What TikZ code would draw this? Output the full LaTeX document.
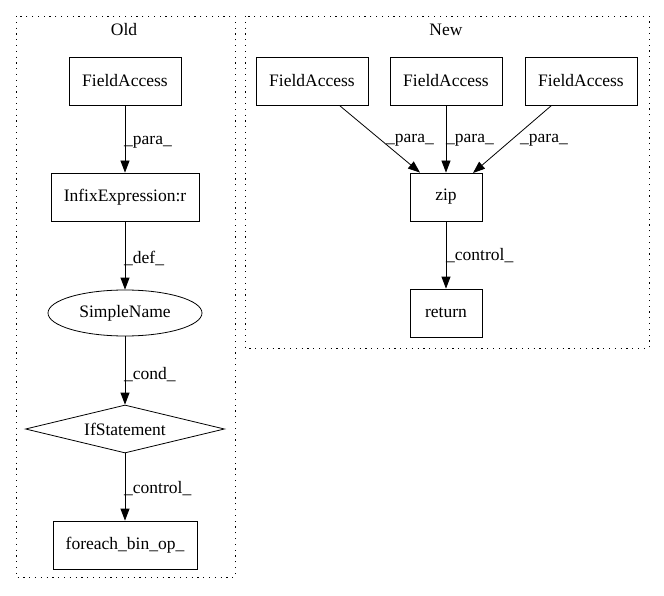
\documentclass[tikz,border=0pt]{standalone}
\usepackage{fontspec}
\setmainfont{Liberation Serif}
\usetikzlibrary{shapes.geometric,arrows.meta}
\begin{document}
\begin{tikzpicture}[x=1pt,y=-1pt,
  every node/.style={font=\fontsize{17.5}{20}\selectfont, inner sep=0pt},
  box/.style={draw, line width=0.8pt, minimum height=48pt},
  ell/.style={draw, line width=0.8pt, ellipse, minimum width=154pt, minimum height=46pt},
  dia/.style={draw, line width=0.8pt, diamond, aspect=4.1, minimum width=199pt, minimum height=48pt},
  cluster/.style={draw, line width=0.9pt, dash pattern=on 1.2pt off 4.6pt},
  edge/.style={draw, line width=0.8pt, -{Triangle[length=12pt,width=9pt]}},
  lab/.style={anchor=west}]
\useasboundingbox (0,0) rectangle (664,596);
\draw[cluster] (16,16) rectangle (235,577);
\draw[cluster] (245,16) rectangle (649,348);
\node (oldlab) at (124,30) {Old};
\node (newlab) at (446,30) {New};
% Old
\node[box, minimum width=112pt] (ofa) at (125,81) {FieldAccess};
\node[box, minimum width=148pt] (inf) at (125,197) {InfixExpression:r};
\node[ell] (sn) at (125,313) {SimpleName};
\node[dia] (ifs) at (125,429) {IfStatement};
\node[box, minimum width=144pt] (fe) at (125,545) {foreach\_bin\_op\_};
\draw[edge] (ofa) -- (inf);
\draw[edge] (inf) -- (sn);
\draw[edge] (sn) -- (ifs);
\draw[edge] (ifs) -- (fe);
\node[lab] (l1) at (124,142) {\_para\_};
\node[lab] (l2) at (124,258) {\_def\_};
\node[lab] (l3) at (124,375) {\_cond\_};
\node[lab] (l4) at (124,489) {\_control\_};
% New
\node[box, minimum width=112pt] (fa1) at (312,81) {FieldAccess};
\node[box, minimum width=112pt] (fa2) at (446,81) {FieldAccess};
\node[box, minimum width=112pt] (fa3) at (581,81) {FieldAccess};
\node[box, minimum width=72pt] (zip) at (446,197) {zip};
\node[box, minimum width=72pt] (ret) at (446,313) {return};
\draw[edge] (fa1.south east) ++(-29,0) coordinate (s1) (s1) -- (zip.north west -| 420,0) ;
\draw[edge] (fa2) -- (zip);
\draw[edge] (fa3.south west) ++(27,0) coordinate (s3) (s3) -- (473,173);
\draw[edge] (zip) -- (ret);
\node[lab] (p1) at (386,140) {\_para\_};
\node[lab] (p2) at (446,140) {\_para\_};
\node[lab] (p3) at (520,140) {\_para\_};
\node[lab] (c1) at (446,256) {\_control\_};
\end{tikzpicture}
\end{document}
